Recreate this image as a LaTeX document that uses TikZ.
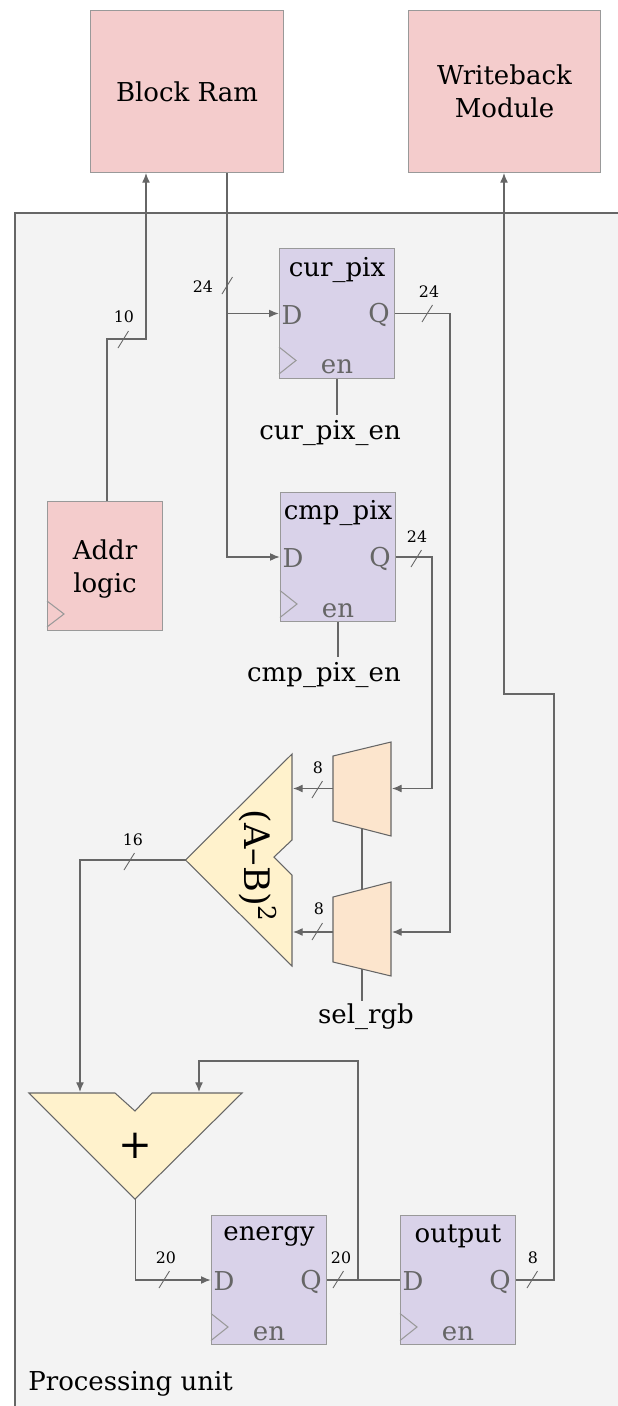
\documentclass[tikz,border=0pt]{standalone}
\usepackage{fontspec}
\setmainfont{DejaVu Serif}
\usetikzlibrary{arrows.meta,calc}

\definecolor{pinkfill}{HTML}{F4CCCC}
\definecolor{regfill}{HTML}{D9D2E9}
\definecolor{alufill}{HTML}{FFF2CC}
\definecolor{muxfill}{HTML}{FCE5CD}
\definecolor{unitfill}{HTML}{F3F3F3}
\definecolor{wirecol}{HTML}{666666}
\definecolor{edgecol}{HTML}{999999}

\begin{document}
\begin{tikzpicture}[
		x=0.02cm,
		y=-0.02cm,
		font=\fontsize{14.8}{18.8}\selectfont,
		>={Latex[length=5.5pt,width=4.5pt]},
		module/.style={draw=edgecol,fill=pinkfill,line width=0.6pt,align=center,minimum width=109.5pt,minimum height=92.5pt,inner sep=0pt},
		addrbox/.style={draw=edgecol,fill=pinkfill,line width=0.6pt,align=center,minimum width=65.8pt,minimum height=73.7pt,inner sep=0pt},
		regbox/.style={draw=edgecol,fill=regfill,line width=0.6pt,minimum width=65.8pt,minimum height=73.7pt,inner sep=0pt},
		pin/.style={text=wirecol,inner sep=0pt},
		clock/.style={draw=edgecol,line width=0.6pt},
		alu/.style={draw=wirecol,fill=alufill,line width=0.6pt},
		mux/.style={draw=wirecol,fill=muxfill,line width=0.6pt},
		wire/.style={draw=wirecol,line width=0.65pt},
		flow/.style={wire,->},
		slash/.style={draw=wirecol,line width=0.5pt},
		width/.style={font=\fontsize{9}{11}\selectfont,inner sep=0pt},
		signal/.style={inner sep=0pt}
		]
		\useasboundingbox (0,0) rectangle (618,1406);
		
		% Processing unit background, open on the right and at the bottom
		\fill[unitfill] (15,213) rectangle (618,1406);
		\draw[wire] (15,1406) -- (15,213) -- (618,213);
		\node[anchor=west,signal] (unit) at (28,1384) {Processing unit};
		
		% Outside modules
		\node[module] (bram) at (187,91.5) {Block Ram};
		\node[module] (wb) at (504.5,91.5) {Writeback\\\raisebox{0pt}{Module}};
		
		% Address logic
		\node[addrbox] (addr) at (105,566) {};
		\node[signal,align=center] (addr_text) at (105,569) {Addr\\logic};
		\draw[clock] (47,601) -- (64,614) -- (47,627);
		
		% Registers
		\foreach \name/\cx/\cy/\lab in {cur_pix/337/313.5/cur\_pix,cmp_pix/338/557/cmp\_pix,energy/269/1280/energy,output/458/1280/output}{
			\node[regbox] (\name) at (\cx,\cy) {};
			\node[signal] (\name_title) at (\cx,\cy-44) {\lab};
			\node[pin] (\name_d) at (\cx-45,\cy+1.5) {D};
			\node[pin] (\name_q) at (\cx+42,\cy+1.5) {Q};
			\node[pin] (\name_en) at (\cx,\cy+53.5) {en};
			\draw[clock] (\cx-58,\cy+33.5) -- (\cx-41,\cy+47) -- (\cx-58,\cy+60.5);
		}
		
		% Enable signals
		\node[signal] (cur_sig) at (330,433) {cur\_pix\_en};
		\node[signal] (cmp_sig) at (324,675) {cmp\_pix\_en};
		\draw[wire] (cur_pix.south) -- (cur_pix.south |- 0,415);
		\draw[wire] (cmp_pix.south) -- (cmp_pix.south |- 0,657);
		
		% Muxes
		\draw[mux] (333,756) -- (391,742) -- (391,836) -- (333,821) -- cycle;
		\draw[mux] (333,897) -- (391,882) -- (391,976) -- (333,962) -- cycle;
		\coordinate (mux_a_in) at (392,788.5);
		\coordinate (mux_a_out) at (333,788.5);
		\coordinate (mux_a_bot) at (362,828.5);
		\coordinate (mux_b_in) at (392,932);
		\coordinate (mux_b_out) at (333,932);
		\coordinate (mux_b_top) at (362,889.5);
		\coordinate (mux_b_bot) at (362,969);
		\node[signal] (sel) at (366,1017) {sel\_rgb};
		\draw[wire] (mux_a_bot) -- (mux_b_top);
		\draw[wire] (mux_b_bot) -- (362,1001);
		
		% Squared difference block
		\draw[alu] (292,754) -- (185.5,860) -- (292,966) -- (292,875) -- (274,857) -- (292,840) -- cycle;
		\coordinate (diff_out) at (185.5,860);
		\coordinate (diff_a) at (293,788.5);
		\coordinate (diff_b) at (293,932);
		\node[rotate=-90,inner sep=0pt,font=\fontsize{20}{24}\selectfont] (diff) at (258,866) {(A–B)\textsuperscript{2}};
		
		% Adder
		\draw[alu] (29,1093) -- (115,1093) -- (135,1111) -- (152,1093) -- (242,1093) -- (135,1199) -- cycle;
		\coordinate (add_a) at (80,1092);
		\coordinate (add_b) at (199,1092);
		\coordinate (add_out) at (135.5,1199);
		\node[inner sep=0pt,font=\fontsize{23}{24}\selectfont] (plus) at (135,1146) {+};
		
		% Bends
		\coordinate (bram_out) at (227,173);
		\coordinate (addr_out) at (107,501);
		\coordinate (bram_addr) at (146,173);
		\coordinate (wb_in) at (504,173);
		
		% Wires
		\draw[flow] (addr_out) -- (107,339) -- (146,339) -- (bram_addr);
		\draw[flow] (bram_out) |- (cmp_pix.west);
		\draw[flow] (bram_out |- cur_pix.west) -- (cur_pix.west);
		\draw[flow] (cur_pix.east) -- (450,313.5) |- (mux_b_in);
		\draw[flow] (cmp_pix.east) -- (432,557) |- (mux_a_in);
		\draw[flow] (mux_a_out) -- (diff_a);
		\draw[flow] (mux_b_out) -- (diff_b);
		\draw[flow] (diff_out) -| (add_a);
		\draw[flow] (add_out) |- (energy.west);
		\draw[wire] (energy.east) -- (output.west);
		\draw[flow] (358,1280) -- (358,1061) -- (199,1061) -- (add_b);
		\draw[flow] (output.east) -- (554,1280) -- (554,694) -- (504,694) -- (wb_in);
		
		% Bus widths
		\foreach \sx/\sy/\lx/\ly/\lab in {
			118/348/124/317/10,
			222/294/203/287/24,
			422/322/429/292/24,
			411/567/417/537/24,
			312/798/318/768/8,
			312/940/319/909/8,
			124/870/133/840/16,
			159/1288/166/1258/20,
			333/1288/341/1258/20,
			527/1288/533/1258/8}{
			\draw[slash] (\sx,\sy) -- ++(10.5,-17);
			\node[width] at (\lx,\ly) {\lab};
		}
		
	\end{tikzpicture}
\end{document}
